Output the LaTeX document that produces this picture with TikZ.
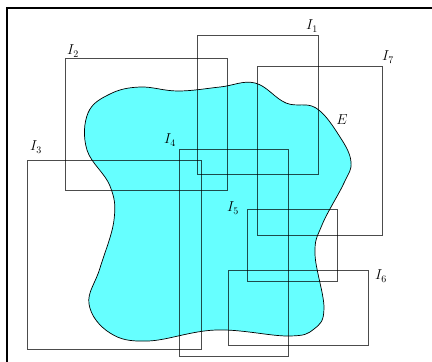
\documentclass[tikz,border=0pt]{standalone}
\begin{document}
\begin{tikzpicture}[x=1pt,y=-1pt,
  interval/.style={draw=black,draw opacity=0.7,line width=0.8pt},
  lbl/.style={inner sep=0pt,font=\Large}]
\useasboundingbox (0,0) rectangle (432,362);
\clip (0,0) rectangle (432,362);
\draw[line width=2.2pt] (7,8) rectangle (500,420);
\definecolor{blobcyan}{rgb}{0.4,1,1}
\draw[fill=blobcyan,line width=0.7pt] plot[smooth cycle,tension=0.65] coordinates {
 (140,87) (178,91) (220,87) (255,83) (286,103) (316,108)
 (340,137) (351,162) (344,183) (322,225) (315,254)
 (324,308) (314,329) (288,336) (216,330) (148,341) (110,333) (89,304)
 (100,268) (114,220) (110,186) (87,150) (88,113) (110,94)};
\draw[interval] (197,35) rectangle (318,174);
\draw[interval] (65,58) rectangle (227,190);
\draw[interval] (27,160) rectangle (201,349);
\draw[interval] (179,149) rectangle (288,356);
\draw[interval] (247,209) rectangle (337,281);
\draw[interval] (228,270) rectangle (368,345);
\draw[interval] (257,66) rectangle (382,235);
\node[lbl] (l1) at (312,26) {$I_1$};
\node[lbl] (l2) at (73,51) {$I_2$};
\node[lbl] (l3) at (36,147) {$I_3$};
\node[lbl] (l4) at (170,140) {$I_4$};
\node[lbl] (l5) at (233,208) {$I_5$};
\node[lbl] (l6) at (381,276) {$I_6$};
\node[lbl] (l7) at (388,57) {$I_7$};
\node[lbl] (le) at (342,120) {$E$};
\end{tikzpicture}
\end{document}
